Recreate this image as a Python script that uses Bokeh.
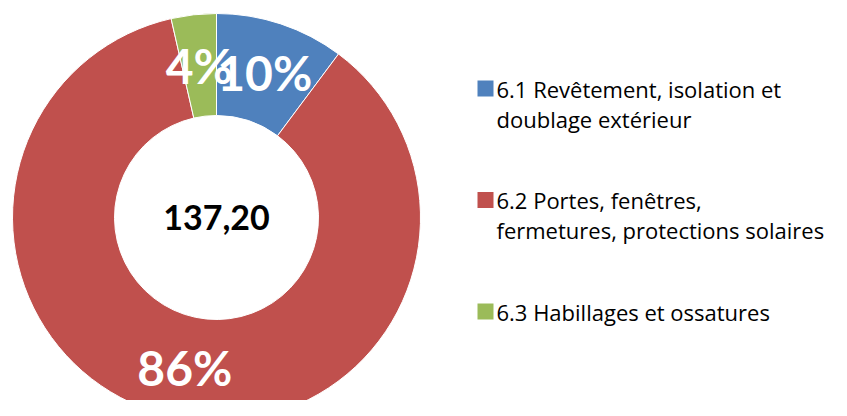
import math
from bokeh.plotting import figure
from bokeh.models import ColumnDataSource, Range1d
from bokeh.core.properties import value
from bokeh.embed import file_html
from bokeh.resources import INLINE

# ---- data ----
categories = [
    "6.1 Revêtement, isolation et\ndoublage extérieur",
    "6.2 Portes, fenêtres,\nfermetures, protections solaires",
    "6.3 Habillages et ossatures",
]
values = [14.0, 118.3, 4.9]
colors = ["#4F81BD", "#C0504D", "#9BBB59"]

# ---- layout (picture px -> data: 1 unit = 1 px) ----
W, H = 831, 400
def px(x):
    return x
def py(y):
    return H - y

cx, cy = px(216), py(217)
r_in, r_out = 102, 204

total = sum(values)
fracs = [v / total for v in values]
starts, ends, mids = [], [], []
acc = 0.0
for f in fracs:
    a0 = math.pi / 2 - 2 * math.pi * acc
    a1 = math.pi / 2 - 2 * math.pi * (acc + f)
    starts.append(a0)
    ends.append(a1)
    mids.append((a0 + a1) / 2)
    acc += f

r_mid = (r_in + r_out) / 2
src = ColumnDataSource(dict(
    start=starts, end=ends, color=colors,
    lx=[cx + r_mid * math.cos(m) for m in mids],
    ly=[cy + r_mid * math.sin(m) for m in mids],
    pct=["%d%%" % round(f * 100) for f in fracs],
))

p = figure(width=W, height=H, output_backend="svg", toolbar_location=None,
           x_range=Range1d(0, W), y_range=Range1d(0, H), min_border=0)
p.axis.visible = False
p.grid.visible = False
p.outline_line_color = None
p.background_fill_color = "white"

p.annular_wedge(x=cx, y=cy, inner_radius=r_in, outer_radius=r_out,
                start_angle="start", end_angle="end", direction="clock",
                fill_color="color", line_color="white", line_width=1, source=src)

p.text(x="lx", y="ly", text="pct", source=src, text_color="white",
       text_font=value("Lato"), text_font_style="bold", text_font_size="48px",
       text_align="center", text_baseline="middle")

total_label = ("%.2f" % total).replace(".", ",")
p.text(x=[cx], y=[cy], text=[total_label], text_color="black",
       text_font=value("Lato"), text_font_style="bold", text_font_size="34px",
       text_align="center", text_baseline="middle")

# ---- legend ----
leg_top = 80
leg_gap = 111.5
sq = 16
line_h = 30
sq_x, sq_y, t_x, t_y, t_txt = [], [], [], [], []
for i, cat in enumerate(categories):
    top = leg_top + i * leg_gap
    sq_x.append(px(477 + sq / 2))
    sq_y.append(py(top + sq / 2))
    for j, line in enumerate(cat.split("\n")):
        t_x.append(px(496))
        t_y.append(py(top + 8 + j * line_h))
        t_txt.append(line)

p.rect(x=sq_x, y=sq_y, width=sq, height=sq, fill_color=colors, line_color=None)
p.text(x=t_x, y=t_y, text=t_txt, text_color="black",
       text_font=value("Open Sans"), text_font_size="22px",
       text_align="left", text_baseline="alphabetic")

open("out.html", "w").write(file_html(p, INLINE))
